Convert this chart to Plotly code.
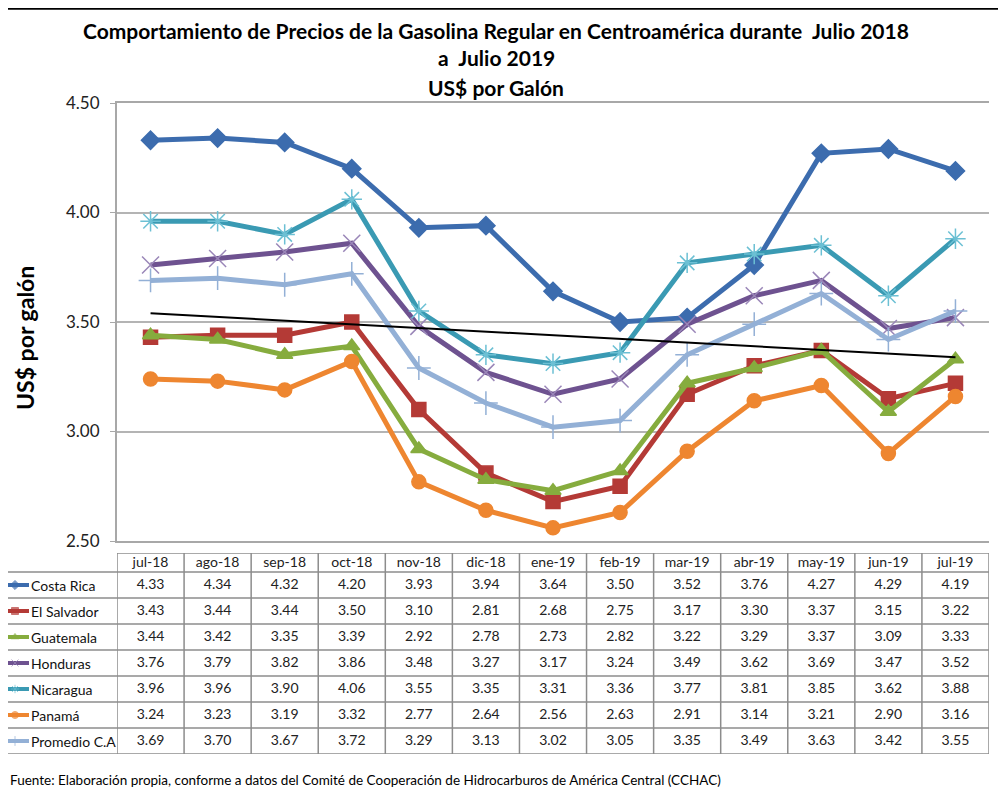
import numpy as np
import plotly.graph_objects as go

# data
months = ["jul-18", "ago-18", "sep-18", "oct-18", "nov-18", "dic-18", "ene-19",
          "feb-19", "mar-19", "abr-19", "may-19", "jun-19", "jul-19"]
costa_rica = [4.33, 4.34, 4.32, 4.20, 3.93, 3.94, 3.64, 3.50, 3.52, 3.76, 4.27, 4.29, 4.19]
el_salvador = [3.43, 3.44, 3.44, 3.50, 3.10, 2.81, 2.68, 2.75, 3.17, 3.30, 3.37, 3.15, 3.22]
guatemala = [3.44, 3.42, 3.35, 3.39, 2.92, 2.78, 2.73, 2.82, 3.22, 3.29, 3.37, 3.09, 3.33]
honduras = [3.76, 3.79, 3.82, 3.86, 3.48, 3.27, 3.17, 3.24, 3.49, 3.62, 3.69, 3.47, 3.52]
nicaragua = [3.96, 3.96, 3.90, 4.06, 3.55, 3.35, 3.31, 3.36, 3.77, 3.81, 3.85, 3.62, 3.88]
panama = [3.24, 3.23, 3.19, 3.32, 2.77, 2.64, 2.56, 2.63, 2.91, 3.14, 3.21, 2.90, 3.16]
promedio = [3.69, 3.70, 3.67, 3.72, 3.29, 3.13, 3.02, 3.05, 3.35, 3.49, 3.63, 3.42, 3.55]

title_lines = ["Comportamiento de Precios de la Gasolina Regular en Centroamérica durante  Julio 2018",
               "a  Julio 2019", "US$ por Galón"]

series = [
    ("Costa Rica", costa_rica, "#3C6CAE", "diamond", "#3C6CAE"),
    ("El Salvador", el_salvador, "#B43A36", "square", "#B43A36"),
    ("Guatemala", guatemala, "#86AC3E", "triangle-up", "#86AC3E"),
    ("Honduras", honduras, "#6E5290", "x-thin", "#9A86B8"),
    ("Nicaragua", nicaragua, "#3A9AB3", "asterisk", "#6CC0D4"),
    ("Panamá", panama, "#EE8630", "circle", "#EE8630"),
    ("Promedio C.A", promedio, "#93B0D6", "cross-thin", "#93B0D6"),
]

W, H = 1006, 789
FONT = "Lato"
OFF = 8  # page body margin: the figure starts 8px in from the window corner


def px(x):
    return (x - OFF) / W


def py(y):
    return 1 - (y - OFF) / H


fig = go.Figure()

# chart lines
for name, vals, color, sym, mcol in series:
    thin = sym in ("x-thin", "asterisk", "cross-thin")
    fig.add_trace(go.Scatter(
        x=months, y=vals, name=name, mode="lines+markers",
        line=dict(color=color, width=5),
        marker=dict(symbol=sym, size=17 if thin else 14, color=mcol,
                    line=dict(width=1.5, color=mcol)),
        showlegend=False,
    ))

# linear trend of the average (as in the original chart)
idx = np.arange(len(promedio))
slope, icpt = np.polyfit(idx, promedio, 1)
fig.add_trace(go.Scatter(
    x=months, y=slope * idx + icpt, mode="lines",
    line=dict(color="black", width=2), showlegend=False, hoverinfo="skip",
))

# data table under the chart
head_h, row_h = 19, 26
tab_h = head_h + row_h * len(series)
row_c = [head_h + row_h * i + row_h / 2 for i in range(len(series))]

fig.add_trace(go.Scatter(
    x=months, y=[head_h / 2 + 1] * len(months), text=months, mode="text",
    textfont=dict(family=FONT, size=14, color="#222"),
    xaxis="x", yaxis="y2", showlegend=False, hoverinfo="skip",
))
for (name, vals, color, sym, mcol), yc in zip(series, row_c):
    fig.add_trace(go.Scatter(
        x=months, y=[yc] * len(months), text=[f"{v:.2f}" for v in vals],
        mode="text", textfont=dict(family=FONT, size=14, color="#222"),
        xaxis="x", yaxis="y2", showlegend=False, hoverinfo="skip",
    ))
    # legend key in the first column
    fig.add_trace(go.Scatter(
        x=[OFF, 15, 29], y=[yc] * 3, mode="lines+markers",
        line=dict(color=color, width=4),
        marker=dict(symbol=sym, size=[0, 7, 0], color=mcol,
                    line=dict(width=1, color=mcol)),
        xaxis="x3", yaxis="y2", showlegend=False, hoverinfo="skip",
    ))
    fig.add_annotation(x=px(29), xref="paper", y=yc, yref="y2", text=name,
                       showarrow=False, xanchor="left", yanchor="middle",
                       font=dict(family=FONT, size=14, color="#111"))

grid = dict(color="#8c8c8c", width=1.5)
fig.add_shape(type="line", xref="paper", yref="y2", x0=px(117), x1=px(989),
              y0=0, y1=0, line=grid)
for i in range(len(series) + 1):
    yb = head_h + row_h * i
    fig.add_shape(type="line", xref="paper", yref="y2", x0=0, x1=px(989),
                  y0=yb, y1=yb, line=grid)
for k in range(len(months) + 1):
    fig.add_shape(type="line", xref="x", yref="y2", x0=k - 0.5, x1=k - 0.5,
                  y0=0, y1=tab_h, line=grid)

# top rule of the page
fig.add_shape(type="line", xref="paper", yref="paper", x0=0, x1=1,
              y0=0.999, y1=0.999, line=dict(color="black", width=2))

for line, yc in zip(title_lines, [30, 58, 87]):
    fig.add_annotation(
        x=px(496), y=py(yc), xref="paper", yref="paper",
        xanchor="center", yanchor="middle", text=f"<b>{line}</b>",
        showarrow=False, font=dict(family=FONT, size=21, color="black"),
    )
fig.add_annotation(
    x=px(25), y=py(338), xref="paper", yref="paper", textangle=-90,
    xanchor="center", yanchor="middle",
    text="<b>US$ por galón</b>", showarrow=False,
    font=dict(family=FONT, size=23, color="black"),
)
fig.add_annotation(
    x=px(8), y=py(780), xref="paper", yref="paper", xanchor="left", yanchor="middle",
    text="Fuente: Elaboración propia, conforme a datos del Comité de Cooperación de Hidrocarburos de América Central (CCHAC)",
    showarrow=False, font=dict(family=FONT, size=13.5, color="black"),
)

fig.update_layout(
    template="none",
    width=W, height=H, margin=dict(l=0, r=0, t=0, b=0, pad=0),
    paper_bgcolor="white", plot_bgcolor="white", showlegend=False,
    font=dict(family=FONT),
    xaxis=dict(domain=[px(117), px(989)], type="category",
               categoryorder="array", categoryarray=months,
               range=[-0.5, len(months) - 0.5], automargin=False,
               showticklabels=False, showgrid=False, zeroline=False, ticks="",
               showline=True, mirror=True, linecolor="#a8a8a8", linewidth=2),
    yaxis=dict(domain=[py(541), py(103)], range=[2.5, 4.5], dtick=0.5,
               tickformat=".2f", showgrid=True, gridcolor="#b4b4b4", gridwidth=2,
               zeroline=False, showline=True, linecolor="#a8a8a8", linewidth=2,
               ticks="outside", ticklen=5, tickcolor="#a8a8a8", automargin=False,
               ticklabelstandoff=7,
               tickfont=dict(family=FONT, size=17, color="#222")),
    yaxis2=dict(domain=[py(754), py(553)], range=[tab_h, 0], visible=False,
                anchor="x", automargin=False),
    xaxis3=dict(domain=[0, px(117)], range=[OFF, 117], visible=False,
                anchor="y2", automargin=False),
)

fig.write_html("out.html")
